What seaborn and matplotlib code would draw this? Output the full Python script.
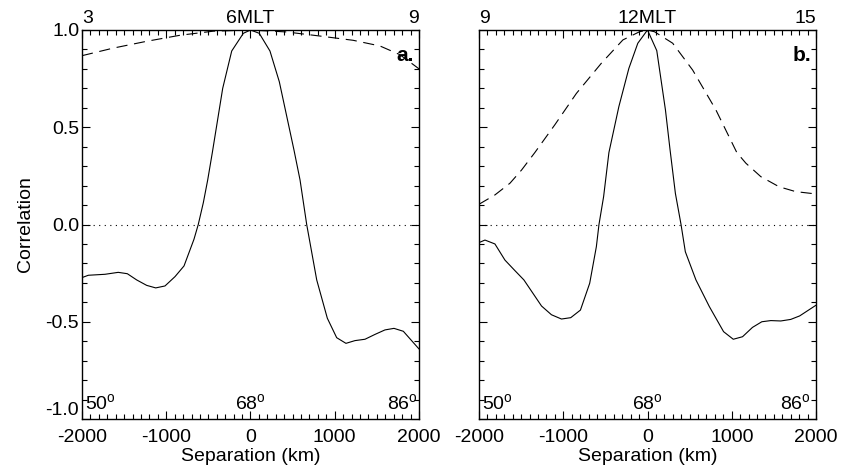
import numpy as np
import pandas as pd
import matplotlib
matplotlib.use("Agg")
import matplotlib.pyplot as plt
from matplotlib.ticker import MultipleLocator
import seaborn as sns

sns.set_style("ticks")
plt.rcParams['font.family'] = ['Liberation Sans', 'DejaVu Sans']
plt.rcParams['mathtext.fontset'] = 'custom'
plt.rcParams['mathtext.rm'] = 'Liberation Sans'
plt.rcParams['axes.unicode_minus'] = False
plt.rcParams['text.color'] = 'black'
plt.rcParams['axes.labelcolor'] = 'black'
plt.rcParams['xtick.color'] = 'black'
plt.rcParams['ytick.color'] = 'black'

# panel a (6 MLT): solid = correlation, dashed = reference curve
a_sep = [-2000, -1925, -1727, -1570, -1462, -1351, -1232, -1125, -1015, -896, -789,
         -671, -620, -560, -508, -453, -330, -223, -85, 0, 104, 231, 342, 516,
         588, 667, 786, 912, 1023, 1133, 1240, 1359, 1478, 1596, 1703, 1814, 2000]
a_corr = [-0.273, -0.261, -0.256, -0.246, -0.253, -0.285, -0.313, -0.326, -0.316, -0.268, -0.213,
          -0.076, 0.0, 0.112, 0.229, 0.37, 0.70, 0.892, 0.983, 1.0, 0.983, 0.892, 0.734, 0.383,
          0.229, 0.0, -0.285, -0.482, -0.582, -0.611, -0.597, -0.590, -0.565, -0.542, -0.534, -0.549, -0.640]
a_dash_sep = [-2000, -1628, -1232, -836, -441, 0, 427, 823, 1219, 1536, 1774, 1970, 2000]
a_dash = [0.868, 0.907, 0.942, 0.973, 0.994, 1.0, 0.990, 0.969, 0.947, 0.918, 0.873, 0.81, 0.80]

# panel b (12 MLT)
b_sep = [-2000, -1929, -1811, -1692, -1574, -1467, -1364, -1258, -1140, -1021, -911, -796,
         -686, -607, -576, -521, -458, -340, -221, -115, 0, 110, 213, 268, 331, 398, 449,
         575, 734, 903, 1018, 1128, 1246, 1357, 1464, 1582, 1700, 1806, 2000]
b_corr = [-0.093, -0.080, -0.100, -0.183, -0.237, -0.285, -0.351, -0.419, -0.464, -0.486, -0.479, -0.440,
          -0.302, -0.114, 0.0, 0.143, 0.37, 0.606, 0.803, 0.932, 1.0, 0.894, 0.589, 0.383, 0.160, 0.0, -0.140,
          -0.285, -0.422, -0.551, -0.590, -0.577, -0.529, -0.500, -0.494, -0.496, -0.488, -0.470, -0.415]
b_dash_sep = [-2000, -1811, -1633, -1495, -1337, -1101, -844, -548, -292, -95, 0, 83, 299,
              536, 812, 1060, 1168, 1345, 1562, 1759, 2000]
b_dash = [0.104, 0.152, 0.212, 0.280, 0.37, 0.512, 0.674, 0.829, 0.949, 0.991, 1.0, 0.991, 0.932,
          0.794, 0.589, 0.37, 0.315, 0.246, 0.194, 0.169, 0.157]

y_ticks = [-1.0, -0.5, 0.0, 0.5, 1.0]
y_ticklabels = ["-1.0", "-0.5", "0.0", "0.5", "1.0"]
top_labels = {"a": ["3", "6MLT", "9"], "b": ["9", "12MLT", "15"]}
lat_labels = ["50$^{\\mathrm{o}}$", "68$^{\\mathrm{o}}$", "86$^{\\mathrm{o}}$"]

panels = [
    ("a", a_sep, a_corr, a_dash_sep, a_dash),
    ("b", b_sep, b_corr, b_dash_sep, b_dash),
]

fig = plt.figure(figsize=(8.45, 4.72), dpi=100)
lefts = [82 / 845, 479 / 845]
width = 337 / 845
bottom = 1 - 419 / 472
height = 389 / 472

fs = 14
axes = []
for i, (name, sx, sy, dx, dy) in enumerate(panels):
    ax = fig.add_axes([lefts[i], bottom, width, height])
    axes.append(ax)
    solid = pd.DataFrame({"sep": sx, "corr": sy})
    dashed = pd.DataFrame({"sep": dx, "corr": dy})
    sns.lineplot(data=solid, x="sep", y="corr", ax=ax, color="black", lw=0.8, sort=False)
    sns.lineplot(data=dashed, x="sep", y="corr", ax=ax, color="black", lw=0.8, sort=False,
                 dashes=False, linestyle=(0, (10, 6)))
    ax.axhline(0, color="black", lw=0.8, linestyle=(0, (1, 4)))

    ax.set_xlim(-2000, 2000)
    ax.set_ylim(-1.0, 1.0)
    ax.xaxis.set_major_locator(MultipleLocator(1000))
    ax.xaxis.set_minor_locator(MultipleLocator(100))
    ax.set_yticks(y_ticks)
    ax.yaxis.set_minor_locator(MultipleLocator(0.1))
    ax.tick_params(which="both", direction="in", top=True, right=True, width=0.8,
                   labelsize=fs, colors="black")
    ax.tick_params(axis="x", pad=7.5)
    ax.tick_params(axis="y", pad=2)
    ax.tick_params(which="major", length=6)
    ax.tick_params(which="minor", length=3.5)
    for s in ax.spines.values():
        s.set_linewidth(1.0)
        s.set_color("black")
    if i == 1:
        ax.set_yticklabels([])
        ax.set_ylabel("")
    else:
        ax.set_yticklabels(y_ticklabels)
        ax.set_ylabel("Correlation", fontsize=fs, labelpad=8)
    ax.set_xlabel("Separation (km)", fontsize=fs, labelpad=1)

    sec = ax.secondary_xaxis("top")
    sec.set_xticks([-2000, 0, 2000])
    sec.set_xticklabels(top_labels[name], fontsize=fs)
    sec.tick_params(length=0, pad=2, colors="black")
    sec.spines["top"].set_visible(False)
    tl = sec.get_xticklabels()
    tl[0].set_ha("left")
    tl[-1].set_ha("right")

    ax.text(0.985, 0.96, name + ".", transform=ax.transAxes, ha="right", va="top",
            fontsize=fs + 1, fontweight="bold")
    ax.text(0.008, 0.012, lat_labels[0], transform=ax.transAxes, ha="left", va="bottom", fontsize=fs)
    ax.text(0.5, 0.012, lat_labels[1], transform=ax.transAxes, ha="center", va="bottom", fontsize=fs)
    ax.text(0.998 if i == 0 else 0.985, 0.012, lat_labels[2], transform=ax.transAxes, ha="right",
            va="bottom", fontsize=fs)

# lift the bottom y label (-1.0) off the x tick labels
fig.canvas.draw()
axes[0].yaxis.get_major_ticks()[0].label1.set_va("bottom")

fig.savefig("out.png", dpi=100)
